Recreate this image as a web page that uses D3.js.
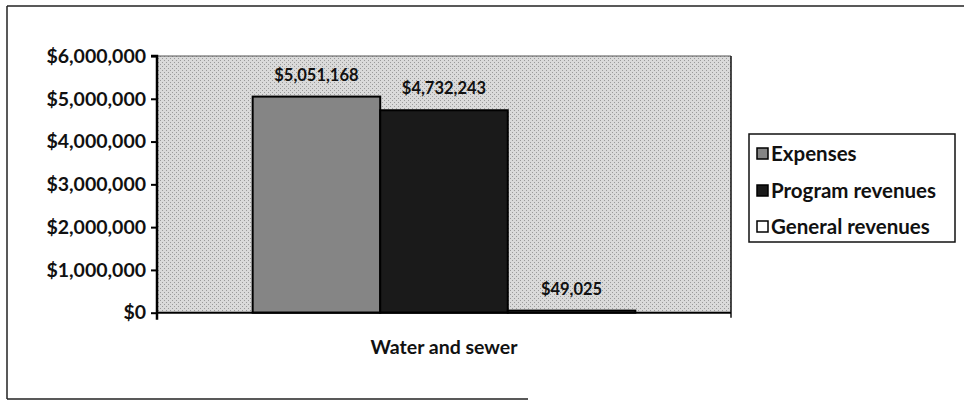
<!DOCTYPE html>
<html><head><meta charset="utf-8">
<script src="https://cdn.jsdelivr.net/npm/d3@7"></script>
<style>
html,body{margin:0;padding:0;background:#fff;}
svg{display:block;}
text{font-family:Lato,"Open Sans",sans-serif;font-weight:bold;fill:#111;}
</style></head>
<body><svg id="c" width="964" height="402"></svg>
<script>
const categories = ["Water and sewer"];
const seriesNames = ["Expenses", "Program revenues", "General revenues"];
const seriesValues = [5051168, 4732243, 49025];
const valueLabels = ["$5,051,168", "$4,732,243", "$49,025"];
const yTicks = [0, 1000000, 2000000, 3000000, 4000000, 5000000, 6000000];
const yTickLabels = ["$0", "$1,000,000", "$2,000,000", "$3,000,000", "$4,000,000", "$5,000,000", "$6,000,000"];
const fills = ["#858585", "#1a1a1a", "#ffffff"];

const svg = d3.select("#c");
const plot = {left:157, right:731, top:56, bottom:312.7};

// subtle stipple texture for the plot area
const defs = svg.append("defs");
const pat = defs.append("pattern").attr("id","stip").attr("width",4).attr("height",4).attr("patternUnits","userSpaceOnUse");
pat.append("rect").attr("width",4).attr("height",4).attr("fill","#dadada");
pat.append("rect").attr("x",0).attr("y",0).attr("width",1).attr("height",1).attr("fill","#9a9a9a");
pat.append("rect").attr("x",2).attr("y",2).attr("width",1).attr("height",1).attr("fill","#9a9a9a");

// outer chart border (scanned, partial)
svg.append("line").attr("x1",7).attr("x2",964).attr("y1",6).attr("y2",6).attr("stroke","#222").attr("stroke-width",1.5);
svg.append("line").attr("x1",7).attr("x2",7).attr("y1",6).attr("y2",399).attr("stroke","#222").attr("stroke-width",1.5);
svg.append("line").attr("x1",7).attr("x2",528).attr("y1",399).attr("y2",399).attr("stroke","#222").attr("stroke-width",1.5);

const y = d3.scaleLinear().domain([0, 6000000]).range([plot.bottom, plot.top]);
const x0 = d3.scaleBand().domain(categories).range([plot.left, plot.right]).paddingInner(0).paddingOuter(0.25);
const x1 = d3.scaleBand().domain(seriesNames).range([0, x0.bandwidth()]);

// plot area background
svg.append("rect").attr("x",plot.left).attr("y",plot.top).attr("width",plot.right-plot.left).attr("height",plot.bottom-plot.top)
  .attr("fill","url(#stip)");
svg.append("line").attr("x1",plot.left).attr("x2",plot.right).attr("y1",plot.top).attr("y2",plot.top).attr("stroke","#555").attr("stroke-width",1);
svg.append("line").attr("x1",plot.right).attr("x2",plot.right).attr("y1",plot.top).attr("y2",plot.bottom+5).attr("stroke","#111").attr("stroke-width",1.5);

// bars
const data = seriesNames.map((s,i)=>({s, v:seriesValues[i], label:valueLabels[i], fill:fills[i], cat:categories[0]}));
const g = svg.append("g");
g.selectAll("rect.bar").data(data).join("rect").attr("class","bar")
  .attr("x", d=>x0(d.cat)+x1(d.s))
  .attr("y", d=>y(d.v))
  .attr("width", x1.bandwidth())
  .attr("height", d=>y(0)-y(d.v))
  .attr("fill", d=>d.fill)
  .attr("stroke","#000").attr("stroke-width",2);
g.selectAll("text.lbl").data(data).join("text").attr("class","lbl")
  .attr("x", d=>x0(d.cat)+x1(d.s)+x1.bandwidth()/2)
  .attr("y", d=>y(d.v)-16)
  .attr("text-anchor","middle").attr("font-size",16.5).text(d=>d.label);

// y axis
const yAxis = d3.axisLeft(y).tickValues(yTicks).tickFormat((d,i)=>yTickLabels[i]).tickSize(6).tickPadding(5);
const ya = svg.append("g").attr("transform",`translate(${plot.left},0)`).call(yAxis);
ya.select(".domain").attr("stroke","#000").attr("stroke-width",2.5).attr("d",`M-6,${plot.top}H0V${plot.bottom+7}`);
ya.selectAll(".tick line").attr("stroke","#000").attr("stroke-width",2);
ya.selectAll(".tick text").attr("font-size",19.5).attr("font-family","Lato, sans-serif").attr("font-weight","bold").attr("fill","#111");

// x axis
const xAxis = d3.axisBottom(x0).tickSize(0).tickPadding(27);
const xa = svg.append("g").attr("transform",`translate(0,${plot.bottom})`).call(xAxis);
xa.select(".domain").attr("stroke","#000").attr("stroke-width",2).attr("d",`M${plot.left},0H${plot.right}`);
xa.selectAll(".tick text").attr("font-size",19.5).attr("font-family","Lato, sans-serif").attr("font-weight","bold").attr("fill","#111");

// legend
const lg = svg.append("g");
lg.append("rect").attr("x",749).attr("y",134).attr("width",206).attr("height",108).attr("fill","#fff").attr("stroke","#111").attr("stroke-width",1.5);
const rows = [154, 191, 227];
data.forEach((d,i)=>{
  lg.append("rect").attr("x",757).attr("y",rows[i]-6).attr("width",11).attr("height",11)
    .attr("fill",d.fill).attr("stroke","#000").attr("stroke-width",1.5);
  lg.append("text").attr("x",771).attr("y",rows[i]).attr("dy","0.35em").attr("font-size",20.5).text(d.s);
});
</script></body></html>
